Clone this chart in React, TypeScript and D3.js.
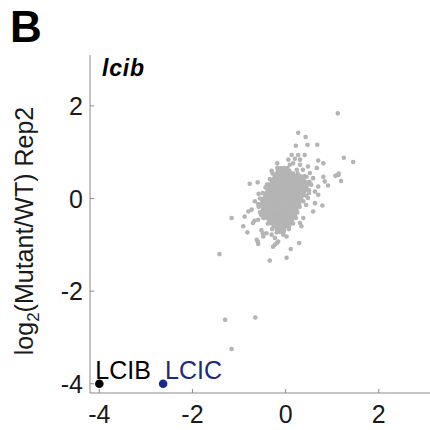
import React from "react";
import * as d3 from "d3";

// Axis ticks
const xTicks = [-4, -2, 0, 2];
const yTicks = [-4, -2, 0, 2];
const domain: [number, number] = [-4.2, 3.1];

// Dense core of the cluster, read row by row: [rep2 value, rep1 values in that row]
const coreRows: [number, number[]][] = [
  [0.66, [-0.18, -0.1, -0.02, 0.04]],
  [0.6, [-0.16, -0.08, 0.0, 0.08]],
  [0.54, [-0.28, -0.2, -0.12, -0.04, 0.04, 0.12, 0.16, 0.26]],
  [0.48, [-0.23, -0.15, -0.07, 0.01, 0.09, 0.17, 0.24, 0.32, 0.4]],
  [0.42, [-0.34, -0.26, -0.18, -0.1, -0.02, 0.06, 0.14, 0.22, 0.3, 0.38]],
  [0.36, [-0.29, -0.21, -0.13, -0.05, 0.03, 0.11, 0.19, 0.27, 0.35, 0.43, 0.51]],
  [0.3, [-0.4, -0.32, -0.24, -0.16, -0.08, 0.0, 0.08, 0.16, 0.24, 0.32, 0.4, 0.47]],
  [0.24, [-0.43, -0.35, -0.27, -0.19, -0.11, -0.03, 0.05, 0.13, 0.21, 0.29, 0.37, 0.44]],
  [0.18, [-0.38, -0.3, -0.22, -0.14, -0.06, 0.02, 0.1, 0.18, 0.26, 0.34, 0.42, 0.5]],
  [0.12, [-0.49, -0.41, -0.33, -0.25, -0.17, -0.09, -0.01, 0.07, 0.15, 0.23, 0.31, 0.39]],
  [0.06, [-0.44, -0.36, -0.28, -0.2, -0.12, -0.04, 0.04, 0.12, 0.2, 0.28, 0.36, 0.44]],
  [0.0, [-0.55, -0.47, -0.39, -0.31, -0.23, -0.15, -0.07, 0.01, 0.09, 0.17, 0.25, 0.33]],
  [-0.06, [-0.5, -0.42, -0.34, -0.26, -0.18, -0.1, -0.02, 0.06, 0.14, 0.22, 0.3, 0.38]],
  [-0.12, [-0.59, -0.51, -0.43, -0.35, -0.27, -0.19, -0.11, -0.03, 0.05, 0.13, 0.21, 0.29]],
  [-0.18, [-0.58, -0.5, -0.42, -0.34, -0.26, -0.18, -0.1, -0.02, 0.06, 0.14, 0.22, 0.3]],
  [-0.24, [-0.49, -0.41, -0.33, -0.25, -0.17, -0.09, -0.01, 0.07, 0.15, 0.23]],
  [-0.3, [-0.55, -0.47, -0.39, -0.31, -0.23, -0.15, -0.07, 0.01, 0.09, 0.17, 0.25]],
  [-0.36, [-0.52, -0.44, -0.36, -0.28, -0.2, -0.12, -0.04, 0.04, 0.12, 0.2]],
  [-0.42, [-0.48, -0.4, -0.32, -0.24, -0.16, -0.08, 0.0, 0.08, 0.16, 0.22]],
  [-0.48, [-0.35, -0.27, -0.19, -0.11, -0.03, 0.05, 0.13]],
  [-0.54, [-0.38, -0.3, -0.22, -0.14, -0.06, 0.02, 0.1, 0.16]],
  [-0.6, [-0.25, -0.17, -0.09, -0.01, 0.07]],
  [-0.66, [-0.29, -0.19, -0.11, -0.03, 0.07]],
  [-0.72, [-0.12, -0.04]],
];

// Scattered genes around the core: [rep1, rep2]
const outerGenes: [number, number][] = [
  [1.12, 1.84], [0.27, 1.42], [0.43, 1.33], [0.22, 1.14], [0.47, 1.16], [0.68, 1.16],
  [1.25, 0.88], [1.45, 0.79], [0.7, 0.82], [-0.18, 0.76], [1.13, 0.51], [1.19, 0.38],
  [1.07, 0.49], [1.14, 0.54], [0.91, 0.28], [-0.77, 0.32], [-0.6, 0.35], [0.79, -0.15],
  [-1.16, -0.42], [-0.88, -0.39], [-0.91, -0.6], [-0.82, -0.73], [-0.67, -0.48],
  [-0.6, -0.93], [-0.59, -0.98], [-0.19, -0.96], [-0.27, -1.04], [0.29, -0.96],
  [0.11, -1.09], [-1.42, -1.2], [-0.34, -1.34], [0.02, -1.28], [-1.3, -2.62],
  [-0.65, -2.57], [-1.16, -3.25], [-0.49, -0.75],
  [0.13, 0.94], [0.27, 0.94], [0.41, 0.94], [0.06, 0.84], [0.2, 0.86], [0.31, 0.84],
  [0.81, 0.76], [0.48, 0.69], [0.67, 0.66], [-0.02, 0.66], [0.09, 0.73], [0.81, 0.47],
  [0.84, 0.37], [0.59, 0.44], [0.7, 0.26], [0.63, 0.15], [0.7, 0.08], [-0.37, 0.3],
  [0.48, 0.01], [0.63, -0.1], [0.59, -0.28], [-0.66, -0.06], [-0.73, -0.24],
  [-0.8, -0.28], [-0.59, -0.46], [-0.7, -0.53], [-0.52, -0.68], [-0.41, -0.75],
  [-0.3, -0.78], [-0.19, -0.73], [-0.48, -0.82], [-0.23, -0.85], [-0.16, -0.93],
  [-0.62, -0.89], [0.02, -0.82], [-0.05, -0.78], [0.34, -0.6], [0.31, -0.53],
  [-0.23, -1.0], [0.38, -0.42], [-0.09, 0.62],
  [0.37, 0.62], [0.45, 0.47], [0.52, 0.55], [0.16, 0.76], [0.31, 0.73],
  [0.55, 0.3], [0.5, 0.12], [0.44, -0.14], [-0.3, 0.6], [0.24, 0.62], [-0.58, 0.1],
];

// Highlighted genes
const highlightNames = ["LCIB", "LCIC"];
const highlightRep1 = [-4.0, -2.63];
const highlightRep2 = [-4.0, -4.0];
const highlightColors = ["#000000", "#1b2a84"];

const W = 430;
const H = 430;
const FONT = "'Liberation Sans', Arial, Helvetica, sans-serif";

export default function App() {
  const x = d3.scaleLinear().domain(domain).range([90, 430]);
  const y = d3.scaleLinear().domain(domain).range([393, 55]);

  const pts: [number, number][] = [];
  coreRows.forEach(([ry, xs]) => xs.forEach((rx) => pts.push([rx, ry])));
  outerGenes.forEach((p) => pts.push(p));

  const axisColor = "#8a8a8a";

  return (
    <svg
      width={W}
      height={H}
      style={{ position: "absolute", left: 0, top: 0, background: "#fff" }}
      fontFamily={FONT}
    >
      <rect width={W} height={H} fill="#fff" />
      {/* panel letter */}
      <text x={10} y={42} fontSize={44} fontWeight="bold" fill="#000">
        B
      </text>
      {/* gene title */}
      <text x={102} y={76} fontSize={23} fontWeight="bold" fontStyle="italic" fill="#000" letterSpacing={0.8}>
        lcib
      </text>

      {/* axes */}
      <line x1={x(domain[0])} x2={x(domain[0])} y1={y(domain[1])} y2={y(domain[0])} stroke={axisColor} strokeWidth={1} />
      <line x1={x(domain[0])} x2={x(domain[1])} y1={y(domain[0])} y2={y(domain[0])} stroke={axisColor} strokeWidth={1} />
      {yTicks.map((t) => (
        <g key={"y" + t}>
          <line x1={x(domain[0])} x2={x(domain[0]) + 4} y1={y(t)} y2={y(t)} stroke={axisColor} />
          <text x={83} y={y(t)} dy="0.36em" textAnchor="end" fontSize={25} fill="#1a1a1a">
            {t < 0 ? "-" + Math.abs(t) : t}
          </text>
        </g>
      ))}
      {xTicks.map((t) => (
        <g key={"x" + t}>
          <line x1={x(t)} x2={x(t)} y1={y(domain[0])} y2={y(domain[0]) - 4} stroke={axisColor} />
          <text x={x(t)} y={423} textAnchor="middle" fontSize={25} fill="#1a1a1a">
            {t < 0 ? "-" + Math.abs(t) : t}
          </text>
        </g>
      ))}

      {/* y label */}
      <text
        transform={`translate(33, 231) rotate(-90)`}
        textAnchor="middle"
        fontSize={25}
        fill="#1a1a1a"
      >
        log<tspan fontSize={17} dy={6}>2</tspan>
        <tspan dy={-6}>(Mutant/WT) Rep2</tspan>
      </text>

      {/* cluster */}
      <g fill="#b4b4b4">
        {pts.map(([a, b], i) => (
          <circle key={i} cx={x(a)} cy={y(b)} r={2.3} />
        ))}
      </g>

      {/* highlighted */}
      {highlightNames.map((n, i) => (
        <g key={n}>
          <circle cx={x(highlightRep1[i])} cy={y(highlightRep2[i])} r={4.3} fill={highlightColors[i]} />
          <text x={x(highlightRep1[i]) - 4 + (i === 1 ? 6 : 0)} y={379} fontSize={25} fill={highlightColors[i]}>
            {n}
          </text>
        </g>
      ))}
    </svg>
  );
}
